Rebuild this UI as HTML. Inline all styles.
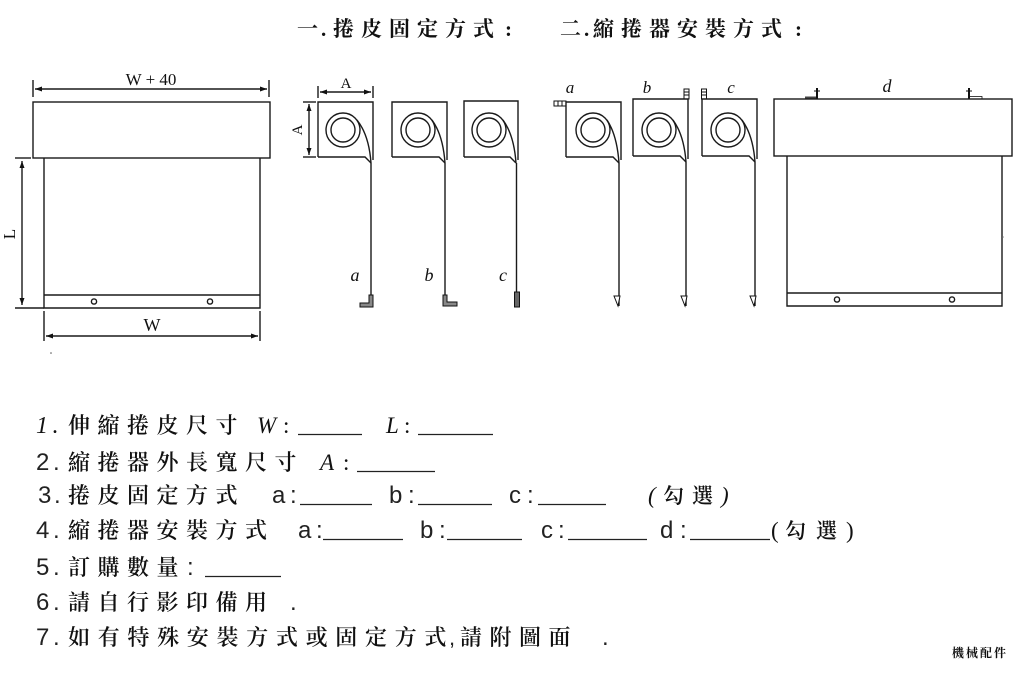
<!DOCTYPE html>
<html>
<head>
<meta charset="utf-8">
<style>
html,body{margin:0;padding:0;background:#fff;}
body{width:1024px;height:674px;overflow:hidden;}
svg{display:block;}
.cjk{font-family:"Liberation Serif","Noto Serif CJK SC",serif;fill:#111;}
.cjb{font-family:"Liberation Serif","Noto Serif CJK SC",serif;fill:#111;font-weight:600;}
.ser{font-family:"Liberation Serif",serif;fill:#111;}
.san{font-family:"Liberation Sans",sans-serif;fill:#222;}
.ln{stroke:#1a1a1a;stroke-width:1.4;fill:none;}
.ul{stroke:#222;stroke-width:1.3;}
</style>
</head>
<body>
<svg width="1024" height="674" viewBox="0 0 1024 674" xmlns="http://www.w3.org/2000/svg">
<defs>
<marker id="ar" markerWidth="8" markerHeight="6" refX="7" refY="3" orient="auto" markerUnits="userSpaceOnUse">
<path d="M0,0.5 L7,3 L0,5.5 Z" fill="#111"/>
</marker>
<marker id="al" markerWidth="8" markerHeight="6" refX="1" refY="3" orient="auto" markerUnits="userSpaceOnUse">
<path d="M8,0.5 L1,3 L8,5.5 Z" fill="#111"/>
</marker>
</defs>

<!-- Title -->
<text class="cjk" font-size="21" font-weight="bold" y="36" x="297 321 333 361 389 417 445 473 505">一.捲皮固定方式:</text>
<text class="cjk" font-size="21" font-weight="bold" y="36" x="560 584 593 621 649 677 705 733 761 795">二.縮捲器安裝方式:</text>

<!-- LEFT DIAGRAM -->
<text class="ser" font-size="17" x="151" y="85" text-anchor="middle">W + 40</text>
<line class="ln" x1="33" y1="80" x2="33" y2="97"/>
<line class="ln" x1="269" y1="80" x2="269" y2="97"/>
<line class="ln" x1="35" y1="89" x2="267" y2="89" stroke-width="1.1" marker-start="url(#al)" marker-end="url(#ar)"/>
<rect class="ln" x="33" y="102" width="237" height="56"/>
<path class="ln" d="M44,158 V308 H260 V158"/>
<line class="ln" x1="44" y1="295" x2="260" y2="295"/>
<circle class="ln" cx="94" cy="301.5" r="2.6" stroke-width="1.1"/>
<circle class="ln" cx="210" cy="301.5" r="2.6" stroke-width="1.1"/>
<line class="ln" x1="15" y1="158" x2="31" y2="158"/>
<line class="ln" x1="15" y1="308" x2="44" y2="308" stroke-width="1"/>
<line class="ln" x1="22" y1="161" x2="22" y2="305" stroke-width="1.1" marker-start="url(#al)" marker-end="url(#ar)"/>
<text class="ser" font-size="17" transform="translate(15,234) rotate(-90)" text-anchor="middle">L</text>
<line class="ln" x1="44" y1="311" x2="44" y2="341" stroke-width="1.1"/>
<line class="ln" x1="260" y1="311" x2="260" y2="341" stroke-width="1.1"/>
<line class="ln" x1="46" y1="336" x2="258" y2="336" stroke-width="1.1" marker-start="url(#al)" marker-end="url(#ar)"/>
<text class="ser" font-size="18" x="152" y="331" text-anchor="middle">W</text>
<circle cx="51" cy="353" r="0.8" fill="#555"/>

<!-- MIDDLE: box a -->
<line class="ln" x1="318" y1="86" x2="318" y2="98" stroke-width="1.1"/>
<line class="ln" x1="373" y1="86" x2="373" y2="98" stroke-width="1.1"/>
<line class="ln" x1="320" y1="92" x2="371" y2="92" stroke-width="1" marker-start="url(#al)" marker-end="url(#ar)"/>
<text class="ser" font-size="15" x="346" y="88" text-anchor="middle">A</text>
<line class="ln" x1="303" y1="102" x2="316" y2="102" stroke-width="1.1"/>
<line class="ln" x1="303" y1="157" x2="316" y2="157" stroke-width="1.1"/>
<line class="ln" x1="309" y1="104" x2="309" y2="155" stroke-width="1" marker-start="url(#al)" marker-end="url(#ar)"/>
<text class="ser" font-size="15" transform="translate(302,130) rotate(-90)" text-anchor="middle">A</text>

<path class="ln" d="M318,157 V102 H373 V160"/>
<path class="ln" d="M318,157 H365 L371,163"/>
<circle class="ln" cx="343" cy="130" r="17"/>
<circle class="ln" cx="343" cy="130" r="12"/>
<path class="ln" d="M357,120 Q369,135 371,163"/>
<path class="ln" d="M371,163 V296" stroke-width="1.2"/>
<path d="M369,295 H373 V307 H360 V303 H369 Z" fill="#888" stroke="#111" stroke-width="1"/>
<text class="ser" font-size="18" font-style="italic" x="355" y="281" text-anchor="middle">a</text>

<!-- box b -->
<path class="ln" d="M392,157 V102 H447 V160"/>
<path class="ln" d="M392,157 H439 L445,163"/>
<circle class="ln" cx="418" cy="130" r="17"/>
<circle class="ln" cx="418" cy="130" r="12"/>
<path class="ln" d="M432,120 Q443,135 445,163"/>
<path class="ln" d="M445,163 V296" stroke-width="1.2"/>
<path d="M443,295 H447 V302 H457 V306 H443 Z" fill="#888" stroke="#111" stroke-width="1"/>
<text class="ser" font-size="18" font-style="italic" x="429" y="281" text-anchor="middle">b</text>

<!-- box c -->
<path class="ln" d="M464,157 V101 H518 V160"/>
<path class="ln" d="M464,157 H510 L516,163"/>
<circle class="ln" cx="489" cy="130" r="17"/>
<circle class="ln" cx="489" cy="130" r="12"/>
<path class="ln" d="M503,120 Q514,135 516,163"/>
<path class="ln" d="M516.5,163 V292" stroke-width="1.2"/>
<rect x="514.5" y="292" width="5" height="15" fill="#666" stroke="#111" stroke-width="1"/>
<text class="ser" font-size="18" font-style="italic" x="503" y="281" text-anchor="middle">c</text>

<!-- RIGHT: box a2 -->
<text class="ser" font-size="17" font-style="italic" x="570" y="93" text-anchor="middle">a</text>
<rect x="554" y="101" width="12" height="5" fill="#fff" stroke="#111" stroke-width="1"/>
<line x1="558" y1="101" x2="558" y2="106" stroke="#111" stroke-width="1"/>
<line x1="562" y1="101" x2="562" y2="106" stroke="#111" stroke-width="1"/>
<path class="ln" d="M566,157 V102 H621 V160"/>
<path class="ln" d="M566,157 H613 L619,163"/>
<circle class="ln" cx="593" cy="130" r="17"/>
<circle class="ln" cx="593" cy="130" r="12"/>
<path class="ln" d="M607,120 Q617,135 619,163"/>
<path class="ln" d="M619,163 V306" stroke-width="1.2"/>
<path d="M614,296 L620,296 L618,306 Z" fill="#fff" stroke="#111" stroke-width="1"/>

<!-- box b2 -->
<text class="ser" font-size="17" font-style="italic" x="647" y="93" text-anchor="middle">b</text>
<rect x="684" y="89" width="5" height="10" fill="#fff" stroke="#111" stroke-width="1"/>
<line x1="684" y1="92" x2="689" y2="92" stroke="#111" stroke-width="1"/>
<line x1="684" y1="95" x2="689" y2="95" stroke="#111" stroke-width="1"/>
<path class="ln" d="M633,156 V99 H688 V159"/>
<path class="ln" d="M633,156 H680 L686,162"/>
<circle class="ln" cx="659" cy="130" r="17"/>
<circle class="ln" cx="659" cy="130" r="12"/>
<path class="ln" d="M673,120 Q684,135 686,162"/>
<path class="ln" d="M686,162 V306" stroke-width="1.2"/>
<path d="M681,296 L687,296 L685,306 Z" fill="#fff" stroke="#111" stroke-width="1"/>

<!-- box c2 -->
<text class="ser" font-size="17" font-style="italic" x="731" y="93" text-anchor="middle">c</text>
<rect x="701.5" y="89" width="5" height="10" fill="#fff" stroke="#111" stroke-width="1"/>
<line x1="701.5" y1="92" x2="706.5" y2="92" stroke="#111" stroke-width="1"/>
<line x1="701.5" y1="95" x2="706.5" y2="95" stroke="#111" stroke-width="1"/>
<path class="ln" d="M702,156 V99 H757 V159"/>
<path class="ln" d="M702,156 H749 L755,162"/>
<circle class="ln" cx="728" cy="130" r="17"/>
<circle class="ln" cx="728" cy="130" r="12"/>
<path class="ln" d="M742,120 Q753,135 755,162"/>
<path class="ln" d="M755,162 V306" stroke-width="1.2"/>
<path d="M750,296 L756,296 L754,306 Z" fill="#fff" stroke="#111" stroke-width="1"/>

<!-- big d -->
<text class="ser" font-size="18" font-style="italic" x="887" y="92" text-anchor="middle">d</text>
<rect x="805" y="96.5" width="13" height="2.5" fill="#444"/>
<line x1="817" y1="88" x2="817" y2="99" stroke="#111" stroke-width="2"/>
<line x1="814" y1="91" x2="820" y2="91" stroke="#111" stroke-width="1"/>
<rect x="969" y="96.5" width="13" height="2.5" fill="#fff" stroke="#111" stroke-width="0.8"/>
<line x1="969" y1="88" x2="969" y2="99" stroke="#111" stroke-width="2"/>
<line x1="966" y1="91" x2="972" y2="91" stroke="#111" stroke-width="1"/>
<rect class="ln" x="774" y="99" width="238" height="57"/>
<path class="ln" d="M787,156 V306 H1002 V156"/>
<line class="ln" x1="787" y1="293" x2="1002" y2="293"/>
<circle class="ln" cx="837" cy="299.5" r="2.6" stroke-width="1.1"/>
<circle class="ln" cx="952" cy="299.5" r="2.6" stroke-width="1.1"/>
<circle cx="1003" cy="237" r="0.8" fill="#888"/>

<!-- TEXT LINES -->
<!-- Line 1 -->
<text class="ser" font-size="24" font-style="italic" x="36" y="433">1</text>
<text class="ser" font-size="24" x="52" y="433">.</text>
<text class="cjb" font-size="22" y="433" x="68 97.5 127 156.5 186 215.5">伸縮捲皮尺寸</text>
<text class="ser" font-size="23" font-style="italic" x="257" y="433">W</text>
<text class="ser" font-size="23" x="283" y="433">:</text>
<line class="ul" x1="298" y1="434.5" x2="362" y2="434.5"/>
<text class="ser" font-size="23" font-style="italic" x="386" y="433">L</text>
<text class="ser" font-size="23" x="404" y="433">:</text>
<line class="ul" x1="418" y1="434.5" x2="493" y2="434.5"/>

<!-- Line 2 -->
<text class="san" font-size="24" x="36" y="470">2</text>
<text class="san" font-size="24" x="53" y="470">.</text>
<text class="cjb" font-size="22" y="470" x="68 97.5 127 156.5 186 215.5 245 274.5">縮捲器外長寬尺寸</text>
<text class="ser" font-size="23" font-style="italic" x="320" y="470">A</text>
<text class="ser" font-size="23" x="343" y="470">:</text>
<line class="ul" x1="357" y1="471.5" x2="435" y2="471.5"/>

<!-- Line 3 -->
<text class="san" font-size="24" x="38" y="503">3</text>
<text class="san" font-size="24" x="54" y="503">.</text>
<text class="cjb" font-size="22" y="503" x="68 97.5 127 156.5 186 215.5">捲皮固定方式</text>
<text class="san" font-size="24" x="272" y="503">a</text>
<text class="san" font-size="24" x="290" y="503">:</text>
<line class="ul" x1="300" y1="504.5" x2="372" y2="504.5"/>
<text class="san" font-size="24" x="389" y="503">b</text>
<text class="san" font-size="24" x="408" y="503">:</text>
<line class="ul" x1="418" y1="504.5" x2="492" y2="504.5"/>
<text class="san" font-size="24" x="509" y="503">c</text>
<text class="san" font-size="24" x="527" y="503">:</text>
<line class="ul" x1="538" y1="504.5" x2="606" y2="504.5"/>
<text class="ser" font-size="23" font-style="italic" x="648" y="503">(</text>
<text class="cjb" font-size="21" y="503" x="663 692">勾選</text>
<text class="ser" font-size="23" font-style="italic" x="721" y="503">)</text>

<!-- Line 4 -->
<text class="san" font-size="24" x="36" y="538">4</text>
<text class="san" font-size="24" x="53" y="538">.</text>
<text class="cjb" font-size="22" y="538" x="68 97.5 127 156.5 186 215.5 245">縮捲器安裝方式</text>
<text class="san" font-size="24" x="298" y="538">a</text>
<text class="san" font-size="24" x="316" y="538">:</text>
<line class="ul" x1="323" y1="539.5" x2="403" y2="539.5"/>
<text class="san" font-size="24" x="420" y="538">b</text>
<text class="san" font-size="24" x="439" y="538">:</text>
<line class="ul" x1="447" y1="539.5" x2="522" y2="539.5"/>
<text class="san" font-size="24" x="541" y="538">c</text>
<text class="san" font-size="24" x="558" y="538">:</text>
<line class="ul" x1="568" y1="539.5" x2="647" y2="539.5"/>
<text class="san" font-size="24" x="660" y="538">d</text>
<text class="san" font-size="24" x="680" y="538">:</text>
<line class="ul" x1="690" y1="539.5" x2="770" y2="539.5"/>
<text class="ser" font-size="23" x="771" y="538">(</text>
<text class="cjb" font-size="21" y="538" x="785 816">勾選</text>
<text class="ser" font-size="23" x="846" y="538">)</text>

<!-- Line 5 -->
<text class="san" font-size="24" x="36" y="575">5</text>
<text class="san" font-size="24" x="53" y="575">.</text>
<text class="cjb" font-size="22" y="575" x="68 97.5 127 156.5">訂購數量</text>
<text class="san" font-size="24" x="187" y="575">:</text>
<line class="ul" x1="205" y1="576.5" x2="281" y2="576.5"/>

<!-- Line 6 -->
<text class="san" font-size="24" x="36" y="610">6</text>
<text class="san" font-size="24" x="53" y="610">.</text>
<text class="cjb" font-size="22" y="610" x="68 97.5 127 156.5 186 215.5 245">請自行影印備用</text>
<text class="san" font-size="24" x="290" y="610">.</text>

<!-- Line 7 -->
<text class="san" font-size="24" x="36" y="645">7</text>
<text class="san" font-size="24" x="53" y="645">.</text>
<text class="cjb" font-size="22" y="645" x="68 97.7 127.4 157.1 186.8 216.5 246.2 275.9 305.6 335.3 365 394.7 424.4">如有特殊安裝方式或固定方式</text>
<text class="san" font-size="22" x="449" y="645">,</text>
<text class="cjb" font-size="22" y="645" x="460 489.5 519 548.5">請附圖面</text>
<text class="san" font-size="24" x="602" y="645">.</text>

<!-- Footer -->
<text class="cjk" font-size="12" font-weight="bold" y="657" x="952 966 980 994">機械配件</text>
</svg>
</body>
</html>
